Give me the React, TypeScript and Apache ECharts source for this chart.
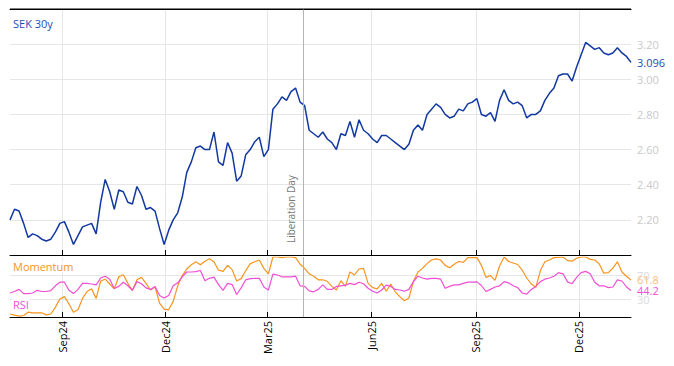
import React, { useEffect, useRef } from "react";
import * as echarts from "echarts";

const startYear = 2024;
const startMonth = 6;
const startDay = 17;
const stepDays = 4;

const sek30y = [
  2.20, 2.26, 2.25, 2.18, 2.10, 2.12, 2.11, 2.09, 2.08, 2.09,
  2.13, 2.18, 2.19, 2.13, 2.06, 2.11, 2.16, 2.17, 2.18, 2.12,
  2.30, 2.43, 2.36, 2.26, 2.37, 2.36, 2.30, 2.29, 2.39, 2.34,
  2.26, 2.27, 2.25, 2.15, 2.06, 2.14, 2.20, 2.24, 2.33, 2.47,
  2.53, 2.61, 2.62, 2.60, 2.60, 2.70, 2.53, 2.51, 2.64, 2.58,
  2.42, 2.45, 2.57, 2.60, 2.645, 2.67, 2.56, 2.60, 2.83, 2.86,
  2.90, 2.88, 2.93, 2.95, 2.87, 2.85, 2.71, 2.69, 2.67, 2.70,
  2.66, 2.64, 2.60, 2.69, 2.68, 2.76, 2.67, 2.77, 2.71, 2.69,
  2.66, 2.64, 2.68, 2.68, 2.66, 2.64, 2.62, 2.60, 2.63, 2.71,
  2.74, 2.71, 2.80, 2.83, 2.86, 2.84, 2.80, 2.78, 2.79, 2.83,
  2.82, 2.86, 2.87, 2.89, 2.80, 2.79, 2.81, 2.76, 2.88, 2.94,
  2.88, 2.86, 2.87, 2.85, 2.78, 2.80, 2.80, 2.82, 2.88, 2.92,
  2.95, 3.02, 3.03, 3.03, 2.99, 3.07, 3.14, 3.21, 3.19, 3.17,
  3.18, 3.15, 3.14, 3.15, 3.18, 3.15, 3.13, 3.096,
];

const momentum = [
  5, 3, 1.5, 2.5, 8, 7, 7, 7, 3.5, 5,
  16, 30, 34, 22, 8, 12, 31, 42.5, 47, 31,
  60, 63, 55, 47, 67, 70.5, 56, 44, 62, 66,
  56, 45, 50, 23, 13, 12, 26, 52, 69, 80,
  87, 92, 87, 93, 97, 92, 78, 76, 86, 79,
  60, 64, 77, 89, 92, 95, 81, 72, 100, 100,
  99, 100, 100, 99, 88, 81, 72, 68, 62, 62,
  59.5, 51, 45, 60.5, 51, 75, 70, 80, 81, 56,
  49, 47, 56, 43, 55, 42, 34, 27, 31.5, 59.5,
  75, 81, 89, 95, 97, 95, 86, 82, 88, 92.5,
  91, 99, 99, 99, 86, 66, 69, 61, 85, 100,
  92.5, 90, 87.5, 78, 65, 55, 49.5, 77, 92, 95,
  99, 99.5, 100, 94, 93, 98, 100, 100, 96, 95,
  88.5, 73, 74, 81.5, 92, 75, 68, 61.8,
];

const rsi = [
  40, 42.5, 46, 39, 39, 40, 44.5, 42.5, 42.5, 44,
  52, 58, 58, 44.5, 39, 46, 56, 56, 55, 53.5,
  65, 68, 63, 47.5, 51, 58, 52, 44.5, 59, 55.5,
  48.5, 46, 51, 36, 31.5, 36, 52, 57, 67, 75,
  75, 75.5, 77.5, 60.5, 64.5, 66.5, 54, 44.5, 56, 54,
  37.5, 48.5, 62, 64, 64.5, 64.5, 50, 45, 71.5, 70,
  67, 67, 67, 68, 52, 51, 43.5, 42, 46, 53.5,
  46, 46, 51, 52, 53, 56, 54, 58, 55.5, 48,
  43, 40, 45, 53, 51, 46, 45, 43, 46, 59,
  68, 65, 63, 64.5, 64.5, 63, 48, 51, 53.5, 53.5,
  56, 58, 58, 58.5, 52.5, 42.5, 46, 50, 52, 59,
  57, 52, 49, 40, 38, 46, 51, 59, 63, 65,
  68, 74, 72, 58.5, 55.5, 66, 74, 76, 72, 58,
  52, 52, 49, 50, 62, 60, 50, 44.2,
];

const tickDates = [
  [2024, 8, 1],
  [2024, 11, 1],
  [2025, 2, 1],
  [2025, 5, 1],
  [2025, 8, 1],
  [2025, 11, 1],
];
const tickLabels = ["Sep24", "Dec24", "Mar25", "Jun25", "Sep25", "Dec25"];
const eventDate = [2025, 3, 2];
const eventName = "Liberation Day";
const seriesNames = ["SEK 30y", "Momentum", "RSI"];
const oscillatorLevels = [30, 70];
const priceMin = 2.0;
const priceMax = 3.4;

export default function App() {
  const ref = useRef<HTMLDivElement>(null);

  useEffect(() => {
    if (!ref.current) return;
    const chart = echarts.init(ref.current, undefined, { renderer: "svg" });

    const dates = sek30y.map((_, i) =>
      new Date(startYear, startMonth, startDay + i * stepDays).getTime()
    );
    const xMin = dates[0];
    const xMax = dates[dates.length - 1];
    const tickTimes = tickDates.map((d) => new Date(d[0], d[1], d[2]).getTime());
    const eventTime = new Date(eventDate[0], eventDate[1], eventDate[2]).getTime();
    const labelFor = (v: number) => {
      const idx = tickTimes.findIndex((t) => Math.abs(t - v) < 86400000);
      return idx >= 0 ? tickLabels[idx] : "";
    };

    const font = "'Open Sans', 'Noto Sans', sans-serif";
    const gridLineColor = "#e6e6e6";
    const axisLabelGrey = "#c9c9c9";
    const blue = "#1239a0";
    const blueText = "#1f4db3";
    const orange = "#f7941d";
    const magenta = "#f04fd5";

    const baseX = (gridIndex: number, showLabels: boolean) => ({
      type: "value" as const,
      gridIndex,
      position: "bottom" as const,
      min: xMin,
      max: xMax,
      axisLine: { show: true, onZero: false, lineStyle: { color: "#000", width: 1 } },
      axisTick: {
        show: true,
        inside: true,
        length: 5,
        customValues: tickTimes,
        lineStyle: { color: "#000" },
      },
      axisLabel: {
        show: showLabels,
        customValues: tickTimes,
        rotate: 90,
        color: "#000",
        fontSize: 11,
        fontFamily: font,
        margin: 4,
        formatter: (v: number) => labelFor(v),
      },
      splitLine: { show: true, lineStyle: { color: gridLineColor, width: 1 } },
    });

    chart.setOption({
      animation: false,
      backgroundColor: "#fff",
      textStyle: { fontFamily: font },
      grid: [
        { left: 10, right: 43, top: 9, bottom: 111, containLabel: false },
        { left: 10, right: 43, top: 257, bottom: 49, containLabel: false },
      ],
      xAxis: [
        baseX(0, false),
        baseX(1, true),
        {
          type: "value",
          gridIndex: 0,
          position: "top",
          min: xMin,
          max: xMax,
          axisLine: { show: true, onZero: false, lineStyle: { color: "#000", width: 1.2 } },
          axisTick: { show: false },
          axisLabel: { show: false },
          splitLine: { show: false },
        },
      ],
      yAxis: [
        {
          type: "value",
          gridIndex: 0,
          position: "right",
          min: priceMin,
          max: priceMax,
          interval: 0.2,
          axisLine: { show: false },
          axisTick: { show: false },
          axisLabel: {
            color: axisLabelGrey,
            fontSize: 11,
            fontFamily: font,
            margin: 6,
            showMinLabel: false,
            showMaxLabel: false,
            formatter: (v: number) => v.toFixed(2),
          },
          splitLine: { show: true, lineStyle: { color: gridLineColor } },
        },
        {
          type: "value",
          gridIndex: 1,
          position: "right",
          min: 0,
          max: 100,
          axisLine: { show: false },
          axisTick: { show: false, customValues: oscillatorLevels },
          axisLabel: {
            customValues: oscillatorLevels,
            color: "#dadada",
            fontSize: 11,
            fontFamily: font,
            margin: 6,
          },
          splitLine: { show: true, lineStyle: { color: gridLineColor } },
        },
      ],
      graphic: [
        {
          type: "text",
          left: 13,
          top: 18,
          z: 100,
          style: { text: seriesNames[0], fill: blueText, fontSize: 11, fontFamily: font },
        },
        {
          type: "text",
          left: 12,
          top: 261,
          z: 100,
          style: {
            text: seriesNames[1],
            fill: orange,
            fontSize: 11,
            fontFamily: font,
            backgroundColor: "rgba(255,255,255,0.8)",
            padding: [0, 1, 0, 1],
          },
        },
        {
          type: "text",
          left: 12,
          top: 299,
          z: 100,
          style: {
            text: seriesNames[2],
            fill: magenta,
            fontSize: 11,
            fontFamily: font,
            backgroundColor: "rgba(255,255,255,0.8)",
            padding: [0, 1, 0, 1],
          },
        },
      ],
      series: [
        {
          name: seriesNames[0],
          type: "line",
          xAxisIndex: 0,
          yAxisIndex: 0,
          data: dates.map((t, i) => [t, sek30y[i]]),
          showSymbol: false,
          lineStyle: { color: blue, width: 1.5 },
          itemStyle: { color: blue },
          z: 3,
          endLabel: {
            show: true,
            color: blueText,
            fontSize: 11,
            fontFamily: font,
            distance: 6,
            formatter: (p: any) => Number(p.value[1]).toFixed(3),
          },
          markLine: {
            silent: true,
            symbol: ["none", "none"],
            lineStyle: { color: "#b3b3b3", type: "solid", width: 1 },
            label: {
              show: true,
              position: "insideStartTop",
              formatter: eventName,
              color: "#777",
              fontSize: 10,
              fontFamily: font,
              distance: [12, 8],
            },
            data: [{ xAxis: eventTime }],
          },
        },
        {
          // top frame line of the price panel
          type: "line",
          xAxisIndex: 0,
          yAxisIndex: 0,
          data: [
            [xMin, priceMax],
            [xMax, priceMax],
          ],
          showSymbol: false,
          clip: false,
          silent: true,
          lineStyle: { color: "#000", width: 1.2 },
          z: 5,
          tooltip: { show: false },
        },
        {
          name: seriesNames[1],
          type: "line",
          xAxisIndex: 1,
          yAxisIndex: 1,
          data: dates.map((t, i) => [t, momentum[i]]),
          showSymbol: false,
          lineStyle: { color: orange, width: 1.2 },
          itemStyle: { color: orange },
          endLabel: {
            show: true,
            color: "#fbbd80",
            fontSize: 11,
            fontFamily: font,
            distance: 6,
            formatter: (p: any) => Number(p.value[1]).toFixed(1),
          },
          markLine: {
            silent: true,
            symbol: ["none", "none"],
            lineStyle: { color: "#b3b3b3", type: "solid", width: 1 },
            label: { show: false },
            data: [{ xAxis: eventTime }],
          },
        },
        {
          name: seriesNames[2],
          type: "line",
          xAxisIndex: 1,
          yAxisIndex: 1,
          data: dates.map((t, i) => [t, rsi[i]]),
          showSymbol: false,
          lineStyle: { color: magenta, width: 1.2 },
          itemStyle: { color: magenta },
          endLabel: {
            show: true,
            color: magenta,
            fontSize: 11,
            fontFamily: font,
            distance: 6,
            formatter: (p: any) => Number(p.value[1]).toFixed(1),
          },
        },
      ],
    });

    return () => chart.dispose();
  }, []);

  return (
    <div
      ref={ref}
      style={{ position: "absolute", left: 0, top: 0, width: 674, height: 366 }}
    />
  );
}
